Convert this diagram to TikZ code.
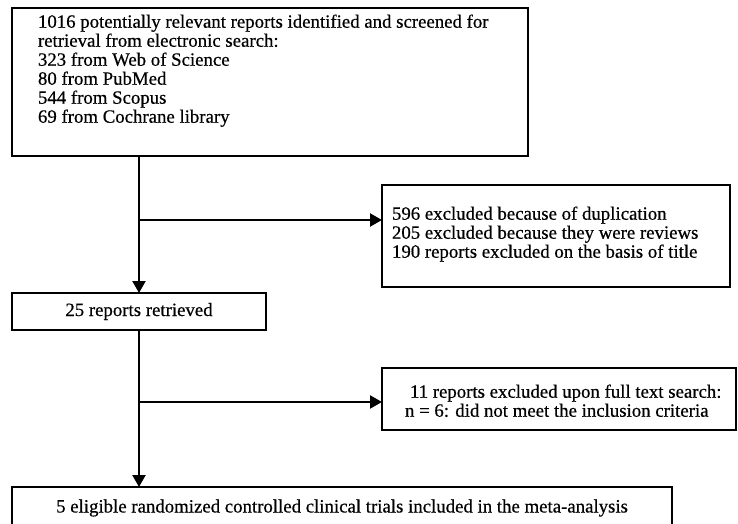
\documentclass[tikz,border=0pt]{standalone}
\usepackage{fontspec}
\setmainfont[FakeBold=0.5]{Liberation Serif}
\usetikzlibrary{arrows.meta}
\begin{document}
\begin{tikzpicture}[x=1pt,y=-1pt,
  box/.style={draw,line width=2.2pt,inner sep=0pt,outer sep=0pt,rectangle},
  txt/.style={inner sep=0pt,outer sep=0pt,align=left,font=\fontsize{18.8}{19}\selectfont},
  arr/.style={line width=2.2pt,-{Triangle[length=12pt,width=13pt]}},
  ln/.style={line width=2.2pt}]
\useasboundingbox (0,0) rectangle (738,524);
% boxes
\node[box,minimum width=516pt,minimum height=148pt] (top) at (270,82) {};
\node[box,minimum width=348pt,minimum height=102pt] (ex1) at (556,236) {};
\node[box,minimum width=254pt,minimum height=37pt] (ret) at (139,311.5) {};
\node[box,minimum width=354pt,minimum height=62pt] (ex2) at (559,399) {};
\node[box,minimum width=660pt,minimum height=41pt] (fin) at (342,507.5) {};
% texts
\node[txt,anchor=north west] (ttop) at (38,14.5) {1016 potentially relevant reports identified and screened for\\retrieval from electronic search:\\323 from Web of Science\\80 from PubMed\\544 from Scopus\\69 from Cochrane library};
\node[txt,anchor=north west] (tex1) at (392,206.5) {596 excluded because of duplication\\205 excluded because they were reviews\\190 reports excluded on the basis of title};
\node[txt,anchor=base] (tret) at (139,316) {25 reports retrieved};
\node[txt,anchor=north west] (tex2) at (405,384.5) {\hspace*{5pt}11 reports excluded upon full text search:\\n = 6: did not meet the inclusion criteria};
\node[txt,anchor=base] (tfin) at (342,512.5) {5 eligible randomized controlled clinical trials included in the meta-analysis};
% connectors
\coordinate (b1) at (139,220);
\coordinate (b2) at (139,402);
\draw[arr] (top.south -| ret.north) -- (ret.north);
\draw[arr] (b1) -- (b1 -| ex1.west);
\draw[arr] (ret.south) -- (ret.south |- fin.north);
\draw[arr] (b2) -- (b2 -| ex2.west);
\end{tikzpicture}
\end{document}
